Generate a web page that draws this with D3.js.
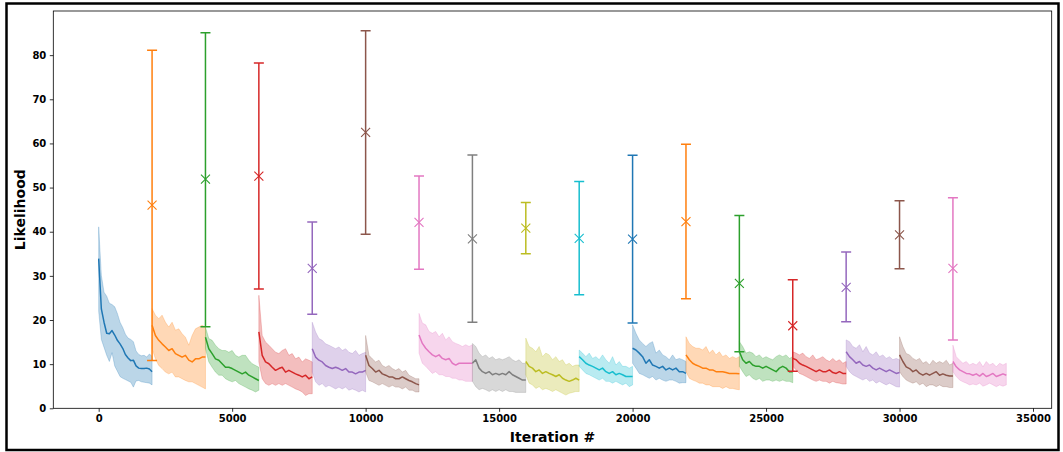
<!DOCTYPE html>
<html>
<head>
<meta charset="utf-8">
<script src="https://cdn.jsdelivr.net/npm/d3@7"></script>
<style>
  body { margin: 0; background: #fff; }
  svg { display: block; }
  .tick text { font-family: "DejaVu Sans", sans-serif; font-weight: bold; font-size: 10px; fill: #000; }
  .tick line { stroke: #000; stroke-width: 0.8; }
  .label { font-family: "DejaVu Sans", sans-serif; font-weight: bold; font-size: 14px; fill: #000; }
</style>
</head>
<body>
<div id="chart"></div>
<script>
// tick labels
const xTicks = [0, 5000, 10000, 15000, 20000, 25000, 30000, 35000];
const yTicks = [0, 10, 20, 30, 40, 50, 60, 70, 80];

// each run lasts 2000 iterations, runs follow one after another
const segLength = 2000;

// mean likelihood per run (evenly spaced samples over the run)
const means = [
  [33.9, 22.5, 19.5, 17.0, 16.9, 17.6, 16.6, 15.4, 14.6, 13.6, 12.2, 11.4, 10.8, 10.9, 9.6, 9.1, 9.0, 9.0, 9.1, 8.9, 8.3],
  [18.8, 16.5, 15.4, 14.6, 13.9, 13.1, 13.5, 12.4, 12.0, 11.6, 12.0, 10.9, 10.5, 11.2, 11.2, 11.6, 11.6],
  [16.1, 13.5, 12.4, 11.2, 10.9, 10.1, 9.3, 9.3, 9.0, 8.6, 8.2, 7.8, 8.2, 7.5, 7.1, 6.7, 6.3],
  [17.3, 12.0, 10.5, 10.1, 9.3, 8.6, 9.0, 9.3, 8.2, 8.6, 8.2, 7.8, 7.5, 7.1, 7.5, 6.7, 7.1],
  [13.5, 11.6, 10.9, 10.5, 9.7, 9.3, 9.0, 9.3, 9.0, 8.6, 9.0, 8.2, 8.2, 7.8, 8.2, 8.2, 8.6],
  [12.0, 9.7, 9.0, 8.2, 8.6, 7.8, 7.5, 7.1, 7.1, 6.7, 6.7, 7.1, 6.7, 6.3, 6.0, 5.6, 5.3],
  [16.6, 14.7, 13.6, 12.8, 12.1, 11.7, 12.1, 11.3, 11.0, 11.3, 10.2, 9.8, 10.2, 10.2, 10.2, 10.2, 10.2],
  [10.2, 11.0, 9.1, 8.3, 7.9, 8.3, 7.6, 7.9, 7.6, 7.9, 7.6, 8.3, 7.6, 7.2, 6.8, 6.4, 6.4],
  [10.6, 9.5, 9.1, 8.3, 8.7, 7.9, 8.3, 7.9, 7.6, 7.2, 7.6, 6.8, 6.4, 6.1, 6.4, 6.8, 6.4],
  [11.7, 11.0, 10.2, 9.8, 9.5, 9.1, 8.7, 9.1, 8.3, 7.9, 8.3, 7.6, 7.9, 7.6, 7.2, 7.2, 7.2],
  [13.6, 13.2, 12.5, 11.7, 10.2, 11.0, 9.8, 9.5, 9.1, 9.5, 8.7, 9.1, 8.7, 9.1, 8.3, 8.3, 7.9],
  [12.1, 11.0, 10.2, 9.8, 9.5, 9.1, 9.1, 8.7, 8.7, 8.3, 8.3, 8.3, 8.1, 7.9, 7.9, 7.9, 7.8],
  [12.8, 11.0, 10.2, 10.6, 9.8, 9.5, 9.5, 9.1, 9.5, 9.1, 8.7, 8.3, 9.1, 9.5, 9.1, 8.3, 8.3],
  [11.3, 11.0, 10.2, 9.8, 9.5, 9.1, 8.7, 8.3, 8.7, 8.3, 8.3, 8.7, 8.1, 7.9, 8.3, 7.9, 7.9],
  [12.8, 11.7, 11.0, 10.2, 10.6, 9.8, 9.5, 9.8, 9.1, 8.7, 9.1, 8.7, 8.3, 8.7, 8.3, 7.9, 8.1],
  [12.1, 10.6, 9.4, 9.0, 8.3, 8.7, 7.9, 7.5, 7.9, 7.5, 7.9, 8.3, 7.5, 7.8, 7.5, 7.3, 7.3],
  [10.6, 9.4, 8.7, 8.3, 7.9, 7.8, 7.5, 7.8, 7.3, 7.9, 7.2, 7.5, 7.9, 7.2, 7.5, 7.8, 7.5]
];

// upper edge of the shaded band
const uppers = [
  [41.1, 30.1, 26.3, 25.4, 23.8, 23.5, 23.0, 21.5, 19.5, 18.3, 16.8, 15.9, 15.6, 15.1, 13.0, 12.2, 11.9, 12.0, 11.6, 12.3, 11.8],
  [22.6, 21.1, 20.3, 21.1, 19.5, 18.4, 19.5, 17.7, 18.0, 16.9, 16.1, 14.3, 16.5, 18.0, 18.4, 18.8, 18.4],
  [18.4, 15.8, 15.4, 14.3, 13.5, 13.1, 13.1, 12.7, 13.1, 12.0, 11.6, 12.0, 12.0, 10.9, 10.1, 9.7, 9.3],
  [25.6, 16.5, 15.0, 14.3, 13.5, 12.7, 12.4, 13.1, 13.5, 12.0, 12.4, 11.2, 11.6, 10.5, 11.2, 10.9, 10.5],
  [19.5, 17.3, 15.8, 15.4, 14.6, 14.3, 13.9, 13.5, 13.9, 13.1, 13.5, 12.7, 12.4, 13.1, 12.0, 12.4, 12.7],
  [16.5, 12.0, 11.2, 10.5, 10.9, 9.7, 9.3, 9.7, 9.0, 8.6, 9.0, 8.2, 8.6, 7.5, 7.1, 6.7, 6.7],
  [21.5, 19.3, 18.9, 17.4, 17.0, 17.4, 16.2, 17.0, 15.5, 16.2, 15.1, 14.7, 14.4, 14.0, 14.4, 14.0, 14.4],
  [14.7, 14.0, 12.5, 11.7, 12.1, 11.3, 11.7, 11.0, 11.3, 11.0, 11.3, 11.7, 11.0, 10.6, 11.0, 10.2, 10.2],
  [15.9, 14.0, 13.6, 12.8, 14.0, 11.7, 12.5, 12.1, 11.0, 11.7, 10.6, 11.0, 9.8, 10.2, 9.5, 9.8, 9.8],
  [13.2, 12.5, 11.7, 12.5, 11.3, 11.7, 11.0, 12.1, 11.0, 10.2, 11.7, 9.8, 10.6, 9.5, 9.5, 9.1, 9.5],
  [18.9, 17.0, 15.5, 14.7, 14.0, 14.7, 15.1, 12.5, 13.2, 12.1, 11.7, 11.0, 12.1, 11.0, 11.3, 11.0, 10.6],
  [16.2, 14.7, 14.0, 13.6, 13.6, 13.2, 14.0, 12.5, 13.2, 12.1, 12.8, 11.7, 12.1, 11.3, 11.7, 11.3, 11.7],
  [15.1, 14.0, 12.5, 12.8, 12.5, 11.7, 12.1, 11.3, 11.7, 11.3, 11.0, 11.7, 12.1, 11.7, 12.1, 11.3, 11.7],
  [12.8, 12.5, 12.1, 12.5, 11.7, 11.3, 12.1, 11.0, 11.3, 11.7, 11.0, 10.6, 11.3, 10.6, 11.0, 10.2, 10.6],
  [15.5, 15.1, 14.0, 13.6, 14.4, 12.8, 14.0, 12.5, 12.1, 12.8, 11.7, 12.1, 11.3, 11.7, 11.0, 11.3, 11.0],
  [16.2, 14.0, 12.4, 12.1, 11.3, 10.9, 11.3, 10.2, 10.6, 9.8, 10.9, 10.2, 10.6, 10.2, 10.9, 9.8, 10.2],
  [14.3, 11.7, 10.9, 10.2, 10.6, 9.8, 10.2, 9.8, 10.6, 9.4, 10.6, 9.8, 10.2, 9.4, 10.2, 9.8, 10.2]
];

// lower edge of the shaded band
const lowers = [
  [22.0, 15.6, 13.8, 12.0, 10.6, 12.6, 9.6, 8.4, 7.2, 6.8, 6.5, 6.2, 5.9, 4.8, 6.2, 6.3, 6.0, 5.9, 5.8, 5.7, 5.3],
  [13.5, 11.2, 9.7, 9.0, 8.2, 7.8, 8.2, 7.1, 7.1, 6.7, 6.3, 6.0, 6.0, 5.6, 5.2, 4.8, 4.4],
  [13.5, 10.5, 9.3, 8.2, 7.5, 7.5, 6.7, 6.3, 6.0, 6.3, 5.6, 5.2, 4.8, 4.4, 4.1, 3.7, 4.1],
  [10.5, 6.7, 5.6, 5.2, 5.6, 5.2, 5.6, 5.2, 5.6, 5.2, 4.8, 4.4, 4.1, 3.7, 2.9, 3.3, 3.3],
  [8.2, 6.0, 5.2, 5.6, 4.8, 5.2, 4.8, 4.4, 4.8, 4.4, 4.8, 4.1, 4.4, 4.1, 3.7, 4.1, 3.7],
  [8.2, 6.3, 6.0, 5.6, 5.2, 5.6, 5.2, 4.8, 5.2, 4.8, 4.8, 4.4, 4.8, 4.1, 4.1, 3.7, 3.7],
  [12.5, 10.2, 9.5, 8.7, 7.9, 8.3, 7.6, 7.6, 7.2, 7.2, 6.8, 6.8, 6.4, 6.4, 6.1, 6.1, 6.1],
  [6.1, 4.9, 4.2, 4.5, 4.2, 3.8, 4.2, 3.8, 4.2, 3.8, 4.2, 3.8, 3.8, 3.6, 3.6, 3.6, 3.6],
  [7.6, 5.7, 5.3, 4.5, 4.9, 4.2, 4.5, 4.2, 3.8, 4.2, 3.8, 3.4, 3.0, 3.4, 3.6, 3.8, 3.8],
  [9.5, 8.7, 7.9, 7.6, 7.2, 6.8, 6.4, 6.8, 6.1, 6.1, 5.7, 6.1, 5.7, 5.3, 5.7, 4.9, 5.3],
  [10.2, 9.1, 7.9, 7.6, 7.2, 6.8, 7.2, 6.4, 6.8, 6.4, 6.1, 6.4, 6.4, 6.1, 5.7, 5.8, 5.8],
  [8.3, 6.8, 6.4, 6.1, 5.7, 5.7, 5.3, 5.3, 4.9, 4.9, 4.9, 4.5, 4.9, 4.5, 4.5, 4.3, 4.2],
  [9.5, 8.3, 7.2, 7.6, 6.8, 6.4, 6.8, 6.1, 6.4, 6.4, 6.1, 6.4, 6.1, 6.4, 6.1, 6.1, 5.8],
  [9.5, 8.7, 7.9, 7.6, 7.2, 6.8, 6.4, 6.1, 6.4, 6.1, 6.1, 5.7, 6.1, 5.8, 5.7, 5.5, 5.5],
  [9.5, 8.3, 7.6, 7.2, 6.8, 6.4, 6.8, 6.1, 6.4, 5.7, 6.1, 5.7, 5.3, 5.7, 5.3, 4.9, 4.8],
  [8.3, 7.2, 6.4, 6.0, 5.7, 6.0, 5.3, 5.7, 4.9, 5.3, 5.3, 4.9, 5.3, 4.9, 4.9, 4.7, 4.7],
  [8.3, 7.2, 6.4, 6.0, 5.7, 5.3, 5.5, 5.3, 5.7, 5.0, 5.3, 5.7, 5.3, 4.9, 5.3, 5.0, 5.3]
];

// error bars at the start of runs 1..16
const errCenter = [46.0, 51.9, 52.6, 31.7, 62.5, 42.1, 38.4, 40.8, 38.5, 38.3, 42.3, 28.3, 18.7, 27.4, 39.3, 31.7];
const errLow    = [10.8, 18.5, 27.0, 21.3, 39.4, 31.5, 19.5, 35.0, 25.7, 19.3, 24.8, 12.8, 8.4, 19.6, 31.6, 15.5];
const errHigh   = [81.1, 85.1, 78.2, 42.2, 85.5, 52.6, 57.4, 46.6, 51.4, 57.3, 59.8, 43.7, 29.1, 35.4, 47.0, 47.7];

const colors = d3.schemeCategory10;

const width = 1063, height = 452;
const plot = {left: 53.3, right: 1051.7, top: 11, bottom: 408.3};

const svg = d3.select("#chart").append("svg")
  .attr("width", width)
  .attr("height", height);

// figure border
svg.append("rect")
  .attr("x", 6.5).attr("y", 3.5)
  .attr("width", 1052).attr("height", 446.5)
  .attr("fill", "none")
  .attr("stroke", "#000")
  .attr("stroke-width", 2.5);

const x = d3.scaleLinear().domain([-1700, 35700]).range([plot.left, plot.right]);
const y = d3.scaleLinear().domain([0, 90]).range([plot.bottom, plot.top]);

svg.append("clipPath").attr("id", "clip")
  .append("rect")
  .attr("x", plot.left).attr("y", plot.top)
  .attr("width", plot.right - plot.left).attr("height", plot.bottom - plot.top);

const g = svg.append("g").attr("clip-path", "url(#clip)");

means.forEach(function(m, i) {
  var start = i * segLength;
  var step = segLength / (m.length - 1);
  var xs = function(j) { return x(start + j * step); };
  var idx = d3.range(m.length);

  var area = d3.area()
    .x(function(j) { return xs(j); })
    .y0(function(j) { return y(lowers[i][j]); })
    .y1(function(j) { return y(uppers[i][j]); });

  var line = d3.line()
    .x(function(j) { return xs(j); })
    .y(function(j) { return y(m[j]); });

  g.append("path")
    .attr("d", area(idx))
    .attr("fill", colors[i % 10])
    .attr("fill-opacity", 0.3)
    .attr("stroke", colors[i % 10])
    .attr("stroke-opacity", 0.3)
    .attr("stroke-width", 0.8);

  g.append("path")
    .attr("d", line(idx))
    .attr("fill", "none")
    .attr("stroke", colors[i % 10])
    .attr("stroke-width", 1.5)
    .attr("stroke-linejoin", "round");
});

// error bars with x markers
errCenter.forEach(function(c, k) {
  var i = k + 1;
  var col = colors[i % 10];
  var cx = x(i * segLength);
  var eb = g.append("g").attr("stroke", col).attr("fill", "none");
  eb.append("line")
    .attr("x1", cx).attr("x2", cx)
    .attr("y1", y(errLow[k])).attr("y2", y(errHigh[k]))
    .attr("stroke-width", 1.5);
  [errLow[k], errHigh[k]].forEach(function(v) {
    eb.append("line")
      .attr("x1", cx - 5).attr("x2", cx + 5)
      .attr("y1", y(v)).attr("y2", y(v))
      .attr("stroke-width", 1.5);
  });
  var cy = y(c), s = 4.5;
  eb.append("path")
    .attr("d", "M" + (cx - s) + "," + (cy - s) + "L" + (cx + s) + "," + (cy + s) +
               "M" + (cx - s) + "," + (cy + s) + "L" + (cx + s) + "," + (cy - s))
    .attr("stroke-width", 1.1);
});

// axes
const xAxis = svg.append("g")
  .attr("transform", "translate(0," + plot.bottom + ")")
  .call(d3.axisBottom(x).tickValues(xTicks).tickSize(3.5).tickPadding(3.5).tickFormat(d3.format("d")));
xAxis.select(".domain").remove();

const yAxis = svg.append("g")
  .attr("transform", "translate(" + plot.left + ",0)")
  .call(d3.axisLeft(y).tickValues(yTicks).tickSize(3.5).tickPadding(3.5).tickFormat(d3.format("d")));
yAxis.select(".domain").remove();

svg.append("rect")
  .attr("x", plot.left).attr("y", plot.top)
  .attr("width", plot.right - plot.left).attr("height", plot.bottom - plot.top)
  .attr("fill", "none")
  .attr("stroke", "#000")
  .attr("stroke-width", 0.8);

svg.append("text")
  .attr("class", "label")
  .attr("x", (plot.left + plot.right) / 2)
  .attr("y", 442)
  .attr("text-anchor", "middle")
  .text("Iteration #");

svg.append("text")
  .attr("class", "label")
  .attr("transform", "translate(25," + (plot.top + plot.bottom) / 2 + ") rotate(-90)")
  .attr("text-anchor", "middle")
  .text("Likelihood");
</script>
</body>
</html>
